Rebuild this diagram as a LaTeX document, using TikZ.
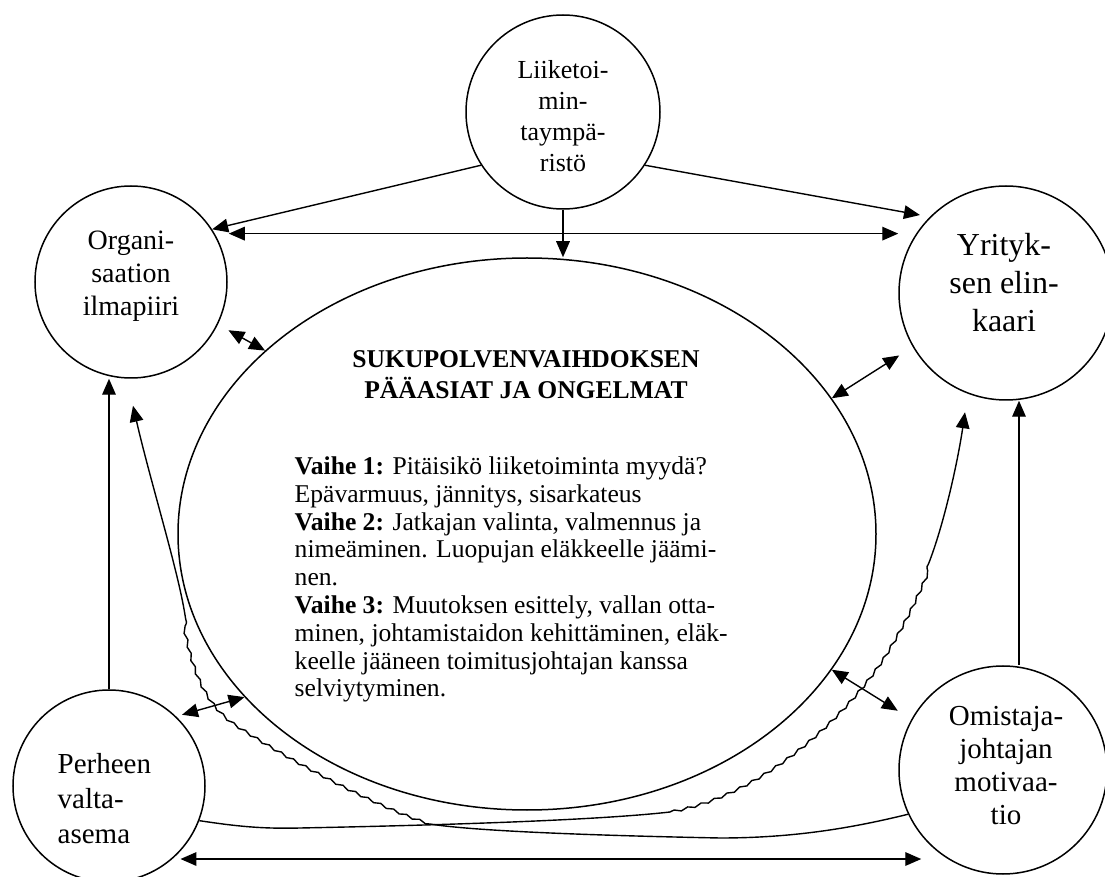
\documentclass[tikz,border=0pt]{standalone}
\usepackage{fontspec}
\setmainfont{Liberation Serif}
\usetikzlibrary{shapes.geometric, arrows.meta, decorations.pathmorphing}

\begin{document}
\begin{tikzpicture}[x=0.5pt, y=-0.5pt,
  line width=0.7pt,
  ring/.style={draw, circle, inner sep=0pt, line width=0.75pt},
  conn/.style={line width=0.7pt, -{Triangle[length=8pt,width=6.8pt]}},
  both/.style={line width=0.7pt, {Triangle[length=8pt,width=6.8pt]}-{Triangle[length=8pt,width=6.8pt]}},
  wavy/.style={decoration={snake, amplitude=0.6pt, segment length=7pt}},
  lbl/.style={align=center, inner sep=0pt},
]
\useasboundingbox (0,0) rectangle (1105,877);

% outer factors
\node[ring, minimum size=97pt]  (biz)  at (563,112) {};
\node[ring, minimum size=96pt]  (org)  at (131,282) {};
\node[ring, minimum size=107pt] (life) at (1006,293) {};
\node[ring, minimum size=96pt]  (fam)  at (109,786) {};
\node[ring, minimum size=104pt] (own)  at (1003,770) {};

% central ellipse
\node[draw, ellipse, inner sep=0pt, line width=0.75pt,
      minimum width=349pt, minimum height=276pt] (core) at (527,534) {};

% circle texts
\node[lbl, font=\fontsize{13}{15.5}\selectfont] (bizT) at (563,116)
  {Liiketoi-\\min-\\taympä-\\ristö};
\node[lbl, font=\fontsize{14}{16.4}\selectfont] (orgT) at (131,276)
  {Organi-\\saation\\ilmapiiri};
\node[lbl, font=\fontsize{16}{19}\selectfont] (lifeT) at (1004,283)
  {Yrityk-\\sen elin-\\kaari};
\node[align=left, inner sep=0pt, anchor=west, font=\fontsize{14.5}{17.5}\selectfont] (famT) at (57,799)
  {Perheen\\valta-\\asema};
\node[lbl, font=\fontsize{14.5}{16.5}\selectfont] (ownT) at (1006,766)
  {Omistaja-\\johtajan\\motivaa-\\tio};

% ellipse texts
\node[lbl, font=\bfseries\fontsize{12.8}{15.5}\selectfont] (head) at (526,375)
  {SUKUPOLVENVAIHDOKSEN\\PÄÄASIAT JA ONGELMAT};
\node[align=left, inner sep=0pt, anchor=north west, font=\fontsize{12.8}{13.9}\selectfont] (body) at (294,456)
  {\textbf{Vaihe 1:} Pitäisikö liiketoiminta myydä?\\
   Epävarmuus, jännitys, sisarkateus\\
   \textbf{Vaihe 2:} Jatkajan valinta, valmennus ja\\
   nimeäminen. Luopujan eläkkeelle jäämi-\\
   nen.\\
   \textbf{Vaihe 3:} Muutoksen esittely, vallan otta-\\
   minen, johtamistaidon kehittäminen, eläk-\\
   keelle jääneen toimitusjohtajan kanssa\\
   selviytyminen.};

% straight connectors
\draw[conn] (biz.213) -- (org.33);
\draw[conn, shorten >=5pt] (biz.-33) -- (life.135);
\draw[conn] (biz.south) -- (biz.south |- core.north);
\draw[both, shorten <=7pt] (org.30) -- (org.30 -| life.west);
\draw[both, shorten <=6pt] (org.-26) -- (core.145);
\draw[both, shorten >=8pt] (core.24) -- (life.210);
\draw[conn] (fam.north) -- (fam.north |- org.south);
\draw[conn] ([xshift=8pt]own.north) -- ([xshift=8pt]own.north |- life.south);
\draw[both, shorten <=3pt] (fam.46) -- (core.210);
\draw[both, shorten >=8pt] (core.-24) -- (own.151);
\draw[both, shorten <=4pt, shorten >=-11.5pt] (fam.-49) -- (fam.-49 -| own.west);

% curved connectors running round the ellipse
\coordinate (orgTip)  at ([xshift=1pt, yshift=-13.5pt]org.south);
\coordinate (lifeTip) at ([xshift=-20.5pt, yshift=-5.75pt]life.south);

\draw[conn] (own.205) .. controls (860,826) and (800,838) .. (720,838)
  .. controls (620,836) and (480,832) .. (430,824)
  decorate[wavy]{(430,824) .. controls (380,808) and (290,760) .. (240,727)
     .. controls (203,703) and (193,660) .. (185,615)}
  .. controls (178,570) and (150,480) .. (orgTip);

\draw[conn] (fam.-21) .. controls (235,826) and (260,829) .. (300,828)
  .. controls (450,825) and (600,820) .. (670,812)
  decorate[wavy]{(670,812) .. controls (760,795) and (840,720) .. (880,660)
     .. controls (905,620) and (920,585) .. (930,560)}
  .. controls (945,520) and (958,460) .. (lifeTip);
\end{tikzpicture}
\end{document}
